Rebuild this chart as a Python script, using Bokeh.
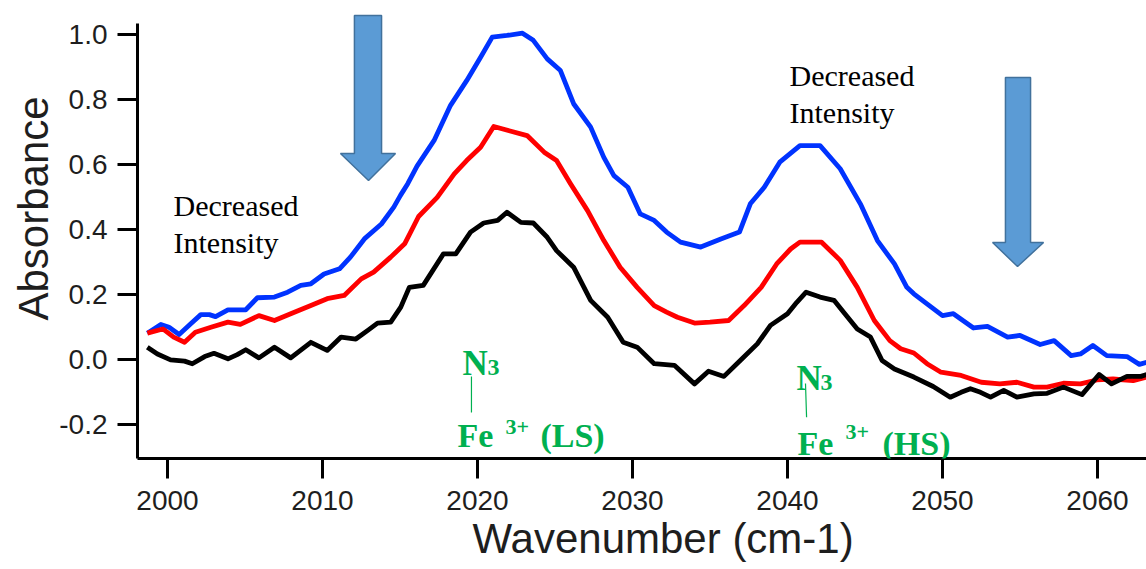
from bokeh.plotting import figure
from bokeh.models import Label, FixedTicker, Range1d, PrintfTickFormatter, Title
from bokeh.embed import file_html
from bokeh.resources import INLINE

# ---------------- data ----------------
wn_blue = [1998.7, 1999.57, 2000.1, 2000.75, 2001.5, 2002.15, 2002.7, 2003.1, 2003.9, 2005.05,
           2005.8, 2006.9, 2007.75, 2008.6, 2009.25, 2010.1, 2011.1, 2011.8, 2012.7, 2013.8,
           2014.6, 2015.03, 2015.5, 2016.1, 2017.2, 2018.26, 2019.3, 2020.2, 2020.95, 2021.9,
           2022.9, 2023.6, 2024.5, 2025.35, 2026.2, 2027.3, 2028.15, 2028.8, 2029.7, 2030.5,
           2031.4, 2032.2, 2033.1, 2034.4, 2035.7, 2036.9, 2037.6, 2038.5, 2039.5, 2040.8,
           2042.1, 2043.4, 2044.7, 2045.8, 2046.9, 2047.7, 2048.15, 2049.0, 2050.0, 2050.7,
           2052.0, 2052.9, 2054.2, 2055.0, 2056.3, 2057.2, 2058.3, 2058.9, 2059.7, 2060.6,
           2061.9, 2062.7, 2063.2]
abs_blue = [0.081, 0.108, 0.099, 0.077, 0.110, 0.138, 0.138, 0.132, 0.153, 0.153,
            0.190, 0.192, 0.207, 0.228, 0.233, 0.263, 0.279, 0.315, 0.371, 0.417,
            0.469, 0.505, 0.541, 0.595, 0.674, 0.782, 0.858, 0.930, 0.992, 0.997,
            1.004, 0.982, 0.925, 0.889, 0.787, 0.715, 0.622, 0.566, 0.530, 0.448,
            0.428, 0.392, 0.361, 0.346, 0.371, 0.392, 0.479, 0.530, 0.607, 0.658,
            0.658, 0.587, 0.479, 0.366, 0.294, 0.222, 0.202, 0.171, 0.135, 0.141,
            0.097, 0.102, 0.069, 0.074, 0.046, 0.058, 0.012, 0.017, 0.043, 0.012,
            0.009, -0.015, -0.008]

wn_red = [1998.7, 1999.7, 2000.4, 2001.1, 2001.8, 2002.8, 2003.9, 2004.7, 2005.9, 2006.9,
          2007.95, 2009.25, 2010.3, 2011.4, 2012.5, 2013.3, 2014.4, 2015.3, 2016.2, 2017.4,
          2018.5, 2019.3, 2020.2, 2021.05, 2022.1, 2023.2, 2024.3, 2025.1, 2026.0, 2027.1,
          2028.15, 2029.2, 2030.3, 2031.4, 2032.2, 2032.9, 2034.0, 2035.0, 2036.2, 2037.2,
          2038.3, 2039.3, 2040.2, 2040.8, 2042.2, 2043.4, 2044.5, 2045.6, 2046.6, 2047.3,
          2048.15, 2049.0, 2049.9, 2051.2, 2052.5, 2053.7, 2054.8, 2055.9, 2056.75, 2057.8,
          2058.9, 2059.95, 2061.0, 2062.3, 2063.2]
abs_red = [0.081, 0.094, 0.069, 0.053, 0.084, 0.099, 0.115, 0.108, 0.135, 0.120,
           0.141, 0.166, 0.187, 0.197, 0.248, 0.269, 0.315, 0.356, 0.440, 0.499,
           0.571, 0.612, 0.653, 0.717, 0.703, 0.689, 0.638, 0.612, 0.541, 0.458,
           0.366, 0.284, 0.222, 0.166, 0.146, 0.130, 0.112, 0.115, 0.120, 0.166,
           0.222, 0.294, 0.340, 0.361, 0.361, 0.305, 0.222, 0.120, 0.058, 0.033,
           0.020, -0.013, -0.039, -0.049, -0.070, -0.075, -0.070, -0.085, -0.085, -0.073,
           -0.075, -0.063, -0.060, -0.065, -0.054]

wn_black = [1998.7, 1999.35, 2000.2, 2001.1, 2001.6, 2002.4, 2003.0, 2003.9, 2004.5, 2005.05,
            2005.9, 2006.9, 2007.95, 2009.25, 2010.3, 2011.2, 2012.15, 2012.9, 2013.55, 2014.4,
            2015.05, 2015.6, 2016.5, 2017.8, 2018.6, 2019.55, 2020.4, 2021.3, 2021.9, 2022.8,
            2023.6, 2024.5, 2025.1, 2026.2, 2027.3, 2028.4, 2029.4, 2030.3, 2031.4, 2032.7,
            2034.0, 2034.9, 2035.9, 2037.0, 2038.05, 2038.9, 2040.0, 2040.6, 2041.2, 2042.1,
            2043.0, 2043.7, 2044.5, 2045.35, 2046.1, 2046.9, 2048.15, 2049.4, 2050.5, 2051.2,
            2051.8, 2052.45, 2053.1, 2053.95, 2054.8, 2055.9, 2056.75, 2057.8, 2059.0, 2060.1,
            2060.9, 2061.9, 2062.8, 2063.2]
abs_black = [0.038, 0.017, -0.001, -0.005, -0.013, 0.009, 0.019, 0.002, 0.015, 0.030,
             0.005, 0.038, 0.005, 0.053, 0.028, 0.069, 0.063, 0.089, 0.112, 0.115,
             0.161, 0.222, 0.228, 0.325, 0.325, 0.392, 0.420, 0.428, 0.453, 0.422,
             0.420, 0.376, 0.335, 0.284, 0.182, 0.130, 0.053, 0.038, -0.013, -0.018,
             -0.075, -0.036, -0.052, -0.001, 0.048, 0.105, 0.141, 0.176, 0.207, 0.192,
             0.182, 0.141, 0.094, 0.069, -0.003, -0.029, -0.054, -0.083, -0.116, -0.101,
             -0.090, -0.101, -0.116, -0.095, -0.116, -0.106, -0.104, -0.085, -0.108, -0.046,
             -0.075, -0.052, -0.052, -0.046]

x_ticks = [2000, 2010, 2020, 2030, 2040, 2050, 2060]
y_ticks = [-0.2, 0.0, 0.2, 0.4, 0.6, 0.8, 1.0]
x_title = "Wavenumber (cm-1)"
y_title = "Absorbance"
note_text = ["Decreased", "Intensity"]

# ---------------- figure ----------------
X0, X1 = 1998.065, 2063.16
Y0, Y1 = -0.3046, 1.1046

p = figure(width=1146, height=569, output_backend="svg", toolbar_location=None,
           x_range=Range1d(X0, X1), y_range=Range1d(Y0, Y1),
           min_border_left=137, min_border_right=0, min_border_top=0, min_border_bottom=111)
p.outline_line_color = None
p.grid.visible = False
p.background_fill_color = "white"
p.border_fill_color = "white"

SANS = "Liberation Sans"
SERIF = "Liberation Serif"

for ax in (p.xaxis[0], p.yaxis[0]):
    ax.axis_line_width = 3
    ax.axis_line_color = "black"
    ax.major_tick_line_width = 3
    ax.major_tick_line_color = "black"
    ax.major_tick_out = 20
    ax.major_tick_in = 0
    ax.minor_tick_out = 0
    ax.minor_tick_in = 0
    ax.major_label_text_font = SANS
    ax.major_label_text_font_size = "28px"
    ax.major_label_text_color = "#1e1e1e"

p.xaxis[0].ticker = FixedTicker(ticks=x_ticks)
p.yaxis[0].ticker = FixedTicker(ticks=y_ticks)
p.yaxis[0].formatter = PrintfTickFormatter(format="%.1f")
p.xaxis[0].major_label_standoff = 12
p.yaxis[0].major_label_standoff = 10
p.yaxis[0].bounds = (Y0, 1.034)

# axis titles as positioned titles in the side panels
p.add_layout(Title(text=x_title, align="left", offset=335, standoff=0,
                   text_font=SANS, text_font_size="42px", text_font_style="normal",
                   text_color="#1e1e1e"), "below")
p.add_layout(Title(text=y_title, align="left", offset=138, standoff=0,
                   text_font=SANS, text_font_size="42px", text_font_style="normal",
                   text_color="#1e1e1e"), "left")

# curves
p.line(wn_blue, abs_blue, line_color="#0033FF", line_width=4.8, line_join="round")
p.line(wn_red, abs_red, line_color="#FF0000", line_width=4.8, line_join="round")
p.line(wn_black, abs_black, line_color="#000000", line_width=4.8, line_join="round")

# arrows (annotation shapes)
arrow_left_x = [2012.06, 2013.81, 2013.81, 2014.71, 2012.97, 2011.16, 2012.06]
arrow_left_y = [1.0585, 1.0585, 0.6338, 0.6338, 0.5508, 0.6338, 0.6338]
arrow_right_x = [2054.06, 2055.68, 2055.68, 2056.52, 2054.84, 2053.23, 2054.06]
arrow_right_y = [0.8677, 0.8677, 0.36, 0.36, 0.2862, 0.36, 0.36]
p.patches([arrow_left_x, arrow_right_x], [arrow_left_y, arrow_right_y],
          fill_color="#5B9BD5", line_color="#41719C", line_width=1.5)

# "Decreased Intensity" notes
for (xx, yy) in [(2000.39, 0.474), (2040.13, 0.874)]:
    p.add_layout(Label(x=xx, y=yy, text=note_text[0], text_font=SERIF,
                       text_font_size="30px", text_color="black", text_baseline="alphabetic"))
    p.add_layout(Label(x=xx, y=yy - 0.114, text=note_text[1], text_font=SERIF,
                       text_font_size="30px", text_color="black", text_baseline="alphabetic"))

GREEN = "#00B050"

def green(x, y, t, size):
    p.add_layout(Label(x=x, y=y, text=t, text_font=SERIF, text_font_style="bold",
                       text_font_size=size, text_color=GREEN, text_baseline="alphabetic"))

# left assignment: N3 - Fe3+ (LS)
green(2019.03, -0.0123, "N", "35px")
green(2020.65, -0.0246, "3", "24px")
green(2018.71, -0.234, "Fe", "34px")
green(2021.8, -0.209, "3+", "22px")
green(2024.06, -0.234, "(LS)", "34px")
# right assignment: N3 - Fe3+ (HS)
green(2040.58, -0.0585, "N", "35px")
green(2042.13, -0.0708, "3", "24px")
green(2040.65, -0.258, "Fe", "34px")
green(2043.74, -0.2246, "3+", "22px")
green(2046.13, -0.258, "(HS)", "34px")

p.segment(x0=[2019.61, 2041.16], y0=[-0.0523, -0.0738],
          x1=[2019.61, 2041.23], y1=[-0.163, -0.178], line_color=GREEN, line_width=1.2)

open("out.html", "w").write(file_html(p, INLINE))
